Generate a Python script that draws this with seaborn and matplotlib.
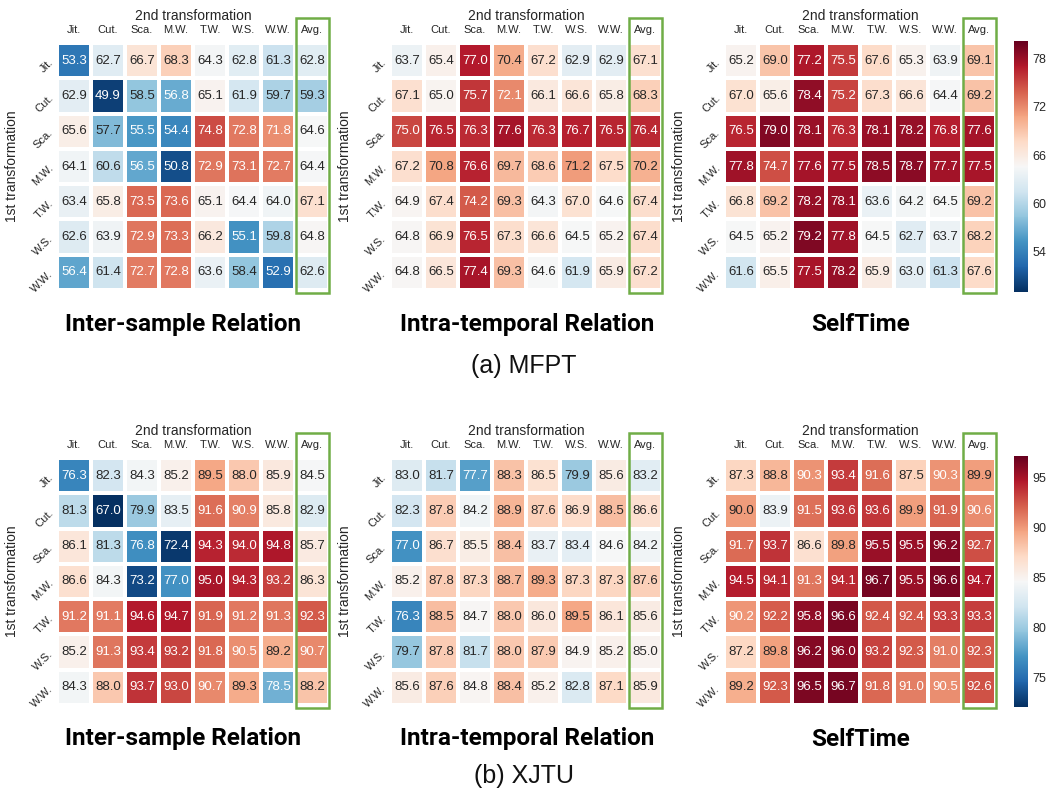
import numpy as np
import pandas as pd
import matplotlib
matplotlib.use("Agg")
import matplotlib.pyplot as plt
import seaborn as sns
from matplotlib.patches import Rectangle

# labels
rows = ["Jit.", "Cut.", "Sca.", "M.W.", "T.W.", "W.S.", "W.W."]
cols = ["Jit.", "Cut.", "Sca.", "M.W.", "T.W.", "W.S.", "W.W.", "Avg."]
titles = ["Inter-sample Relation", "Intra-temporal Relation", "SelfTime"]
captions = ["(a) MFPT", "(b) XJTU"]

# MFPT
mfpt_inter = [
    [53.3, 62.7, 66.7, 68.3, 64.3, 62.8, 61.3, 62.8],
    [62.9, 49.9, 58.5, 56.8, 65.1, 61.9, 59.7, 59.3],
    [65.6, 57.7, 55.5, 54.4, 74.8, 72.8, 71.8, 64.6],
    [64.1, 60.6, 56.5, 50.8, 72.9, 73.1, 72.7, 64.4],
    [63.4, 65.8, 73.5, 73.6, 65.1, 64.4, 64.0, 67.1],
    [62.6, 63.9, 72.9, 73.3, 66.2, 55.1, 59.8, 64.8],
    [56.4, 61.4, 72.7, 72.8, 63.6, 58.4, 52.9, 62.6],
]
mfpt_intra = [
    [63.7, 65.4, 77.0, 70.4, 67.2, 62.9, 62.9, 67.1],
    [67.1, 65.0, 75.7, 72.1, 66.1, 66.6, 65.8, 68.3],
    [75.0, 76.5, 76.3, 77.6, 76.3, 76.7, 76.5, 76.4],
    [67.2, 70.8, 76.6, 69.7, 68.6, 71.2, 67.5, 70.2],
    [64.9, 67.4, 74.2, 69.3, 64.3, 67.0, 64.6, 67.4],
    [64.8, 66.9, 76.5, 67.3, 66.6, 64.5, 65.2, 67.4],
    [64.8, 66.5, 77.4, 69.3, 64.6, 61.9, 65.9, 67.2],
]
mfpt_selftime = [
    [65.2, 69.0, 77.2, 75.5, 67.6, 65.3, 63.9, 69.1],
    [67.0, 65.6, 78.4, 75.2, 67.3, 66.6, 64.4, 69.2],
    [76.5, 79.0, 78.1, 76.3, 78.1, 78.2, 76.8, 77.6],
    [77.8, 74.7, 77.6, 77.5, 78.5, 78.7, 77.7, 77.5],
    [66.8, 69.2, 78.2, 78.1, 63.6, 64.2, 64.5, 69.2],
    [64.5, 65.2, 79.2, 77.8, 64.5, 62.7, 63.7, 68.2],
    [61.6, 65.5, 77.5, 78.2, 65.9, 63.0, 61.3, 67.6],
]

# XJTU
xjtu_inter = [
    [76.3, 82.3, 84.3, 85.2, 89.5, 88.0, 85.9, 84.5],
    [81.3, 67.0, 79.9, 83.5, 91.6, 90.9, 85.8, 82.9],
    [86.1, 81.3, 76.8, 72.4, 94.3, 94.0, 94.8, 85.7],
    [86.6, 84.3, 73.2, 77.0, 95.0, 94.3, 93.2, 86.3],
    [91.2, 91.1, 94.6, 94.7, 91.9, 91.2, 91.3, 92.3],
    [85.2, 91.3, 93.4, 93.2, 91.8, 90.5, 89.2, 90.7],
    [84.3, 88.0, 93.7, 93.0, 90.7, 89.3, 78.5, 88.2],
]
xjtu_intra = [
    [83.0, 81.7, 77.7, 88.3, 86.5, 79.9, 85.6, 83.2],
    [82.3, 87.8, 84.2, 88.9, 87.6, 86.9, 88.5, 86.6],
    [77.0, 86.7, 85.5, 88.4, 83.7, 83.4, 84.6, 84.2],
    [85.2, 87.8, 87.3, 88.7, 89.3, 87.3, 87.3, 87.6],
    [76.3, 88.5, 84.7, 88.0, 86.0, 89.5, 86.1, 85.6],
    [79.7, 87.8, 81.7, 88.0, 87.9, 84.9, 85.2, 85.0],
    [85.6, 87.6, 84.8, 88.4, 85.2, 82.8, 87.1, 85.9],
]
xjtu_selftime = [
    [87.3, 88.8, 90.3, 93.4, 91.6, 87.5, 90.3, 89.9],
    [90.0, 83.9, 91.5, 93.6, 93.6, 89.9, 91.9, 90.6],
    [91.7, 93.7, 86.6, 89.8, 95.5, 95.5, 96.2, 92.7],
    [94.5, 94.1, 91.3, 94.1, 96.7, 95.5, 96.6, 94.7],
    [90.2, 92.2, 95.8, 96.6, 92.4, 92.4, 93.3, 93.3],
    [87.2, 89.8, 96.2, 96.0, 93.2, 92.3, 91.0, 92.3],
    [89.2, 92.3, 96.5, 96.7, 91.8, 91.0, 90.5, 92.6],
]

#colour range and ticks per dataset
ranges = [(49.0, 80.2), (72.0, 97.2)]
cbar_ticks = [[54, 60, 66, 72, 78], [75, 80, 85, 90, 95]]
grids = [[mfpt_inter, mfpt_intra, mfpt_selftime],
         [xjtu_inter, xjtu_intra, xjtu_selftime]]

sns.set_style("white")
plt.rcParams["font.family"] = ["Liberation Sans", "DejaVu Sans"]
plt.rcParams["text.color"] = "#262626"

fig = plt.figure(figsize=(10.48, 7.92), dpi=100)

W, H = 1048.0, 792.0
lefts = [57, 390, 724]
tops = [43, 458]
aw, ah = 272, 247
title_x = [183, 527, 860]
title_y = [324, 739]
cap_y = [366, 776]

for r in range(2):
    vmin, vmax = ranges[r]
    cax = fig.add_axes([1014 / W, 1 - (tops[r] - 2 + 251) / H, 14 / W, 251 / H])
    for c in range(3):
        ax = fig.add_axes([lefts[c] / W, 1 - (tops[r] + ah) / H, aw / W, ah / H])
        df = pd.DataFrame(grids[r][c], index=rows, columns=cols)
        sns.heatmap(df, ax=ax, cmap="RdBu_r", vmin=vmin, vmax=vmax,
                    annot=True, fmt=".1f", linewidths=1.5, linecolor="white",
                    annot_kws={"size": 9.5},
                    cbar=(c == 2), cbar_ax=cax if c == 2 else None,
                    cbar_kws={"ticks": cbar_ticks[r]})

        # white text on the dark ends of the scale
        vals = df.values.ravel()
        for t, v in zip(ax.texts, vals):
            n = (v - vmin) / (vmax - vmin)
            t.set_color("white" if (n > 0.72 or n < 0.27) else "#262626")

        ax.xaxis.tick_top()
        ax.xaxis.set_label_position("top")
        ax.set_xlabel("2nd transformation", fontsize=10)
        ax.set_ylabel("1st transformation", fontsize=10)
        ax.xaxis.set_label_coords(0.5, 1.092)
        ax.yaxis.set_label_coords(-0.138, 0.5)
        ax.tick_params(axis="x", length=0, labelsize=8, pad=6)
        ax.tick_params(axis="y", length=0, labelsize=8, pad=4)
        plt.setp(ax.get_xticklabels(), rotation=0)
        plt.setp(ax.get_yticklabels(), rotation=45, ha="right", va="center",
                 rotation_mode="anchor")

        # green box round the Avg column
        ax.add_patch(Rectangle((7.03, -0.72), 0.97, 7.8, fill=False,
                               edgecolor="#70ad47", linewidth=1.8, clip_on=False))

        fig.text(title_x[c] / W, 1 - title_y[r] / H, titles[c], ha="center",
                 va="center", fontsize=17.5, fontweight="bold",
                 family=["Roboto", "DejaVu Sans"], color="black")

    cax.tick_params(length=0, labelsize=9, pad=3)
    for s in cax.spines.values():
        s.set_visible(False)

    fig.text(0.5, 1 - cap_y[r] / H, captions[r], ha="center", va="center",
             fontsize=18, color="#111111")

plt.savefig("out.png", dpi=100)
plt.close()
